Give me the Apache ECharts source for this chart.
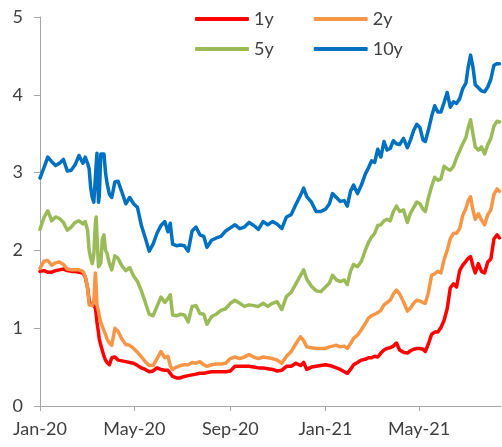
<!DOCTYPE html>
<html>
<head>
<meta charset="utf-8">
<script src="https://cdn.jsdelivr.net/npm/echarts@6/dist/echarts.min.js"></script>
<style>
html,body{margin:0;padding:0;background:#fff;}
#chart{width:502px;height:447px;}
</style>
</head>
<body>
<div id="chart"></div>
<script>
const dates = [
'2020-01-01','2020-01-06','2020-01-11','2020-01-16','2020-01-21','2020-01-26','2020-01-31','2020-02-05','2020-02-10','2020-02-15',
'2020-02-20','2020-02-25','2020-02-28','2020-03-02','2020-03-04','2020-03-06','2020-03-08','2020-03-10','2020-03-12','2020-03-13',
'2020-03-14','2020-03-16','2020-03-17','2020-03-19','2020-03-21','2020-03-23','2020-03-25','2020-03-27','2020-03-30','2020-04-02',
'2020-04-06','2020-04-10','2020-04-15','2020-04-20','2020-04-25','2020-04-30','2020-05-05','2020-05-10','2020-05-15','2020-05-20',
'2020-05-25','2020-05-30','2020-06-04','2020-06-09','2020-06-13','2020-06-16','2020-06-19','2020-06-24','2020-06-29','2020-07-04',
'2020-07-09','2020-07-14','2020-07-19','2020-07-24','2020-07-29','2020-08-02','2020-08-08','2020-08-14','2020-08-20','2020-08-26',
'2020-09-01','2020-09-07','2020-09-13','2020-09-19','2020-09-25','2020-10-01','2020-10-07','2020-10-13','2020-10-19','2020-10-25',
'2020-10-31','2020-11-06','2020-11-12','2020-11-18','2020-11-24','2020-11-30','2020-12-04','2020-12-08','2020-12-14','2020-12-20',
'2020-12-26','2021-01-01','2021-01-06','2021-01-10','2021-01-15','2021-01-20','2021-01-25','2021-01-29','2021-02-02','2021-02-06',
'2021-02-11','2021-02-16','2021-02-21','2021-02-25','2021-03-01','2021-03-05','2021-03-09','2021-03-13','2021-03-17','2021-03-21',
'2021-03-25','2021-03-29','2021-04-02','2021-04-06','2021-04-11','2021-04-16','2021-04-20','2021-04-24','2021-04-28','2021-05-02',
'2021-05-06','2021-05-09','2021-05-13','2021-05-17','2021-05-21','2021-05-25','2021-05-29','2021-06-02','2021-06-06','2021-06-10',
'2021-06-14','2021-06-18','2021-06-22','2021-06-26','2021-06-30','2021-07-03','2021-07-06','2021-07-09','2021-07-12','2021-07-16',
'2021-07-20','2021-07-24','2021-07-28','2021-08-01','2021-08-05','2021-08-09','2021-08-12'
];

const y1 = [
1.73,1.74,1.72,1.72,1.74,1.75,1.76,1.74,1.73,1.73,
1.72,1.71,1.66,1.52,1.36,1.30,1.29,1.29,1.26,1.18,
1.08,0.94,0.86,0.78,0.71,0.64,0.59,0.56,0.53,0.62,
0.63,0.59,0.58,0.57,0.56,0.55,0.52,0.49,0.47,0.44,
0.45,0.49,0.47,0.46,0.46,0.42,0.38,0.36,0.36,0.38,
0.39,0.40,0.41,0.42,0.42,0.43,0.44,0.44,0.44,0.44,
0.45,0.51,0.51,0.51,0.51,0.50,0.49,0.49,0.48,0.47,
0.45,0.46,0.51,0.51,0.55,0.52,0.56,0.47,0.50,0.51,
0.52,0.53,0.52,0.51,0.49,0.47,0.44,0.42,0.47,0.53,
0.56,0.59,0.60,0.62,0.62,0.64,0.63,0.68,0.72,0.74,
0.75,0.77,0.81,0.72,0.69,0.68,0.71,0.73,0.74,0.74,
0.73,0.70,0.80,0.92,0.95,0.95,1.01,1.10,1.25,1.52,
1.57,1.53,1.74,1.81,1.86,1.90,1.92,1.80,1.71,1.83,
1.73,1.71,1.85,1.89,2.15,2.20,2.16
];

const y2 = [
1.77,1.86,1.87,1.81,1.84,1.85,1.82,1.76,1.75,1.75,
1.75,1.73,1.67,1.52,1.30,1.29,1.29,1.35,1.71,1.55,
1.30,1.22,1.16,1.08,1.02,0.97,0.92,0.86,0.81,0.78,
1.00,0.96,0.86,0.79,0.78,0.74,0.69,0.63,0.57,0.52,
0.52,0.61,0.70,0.62,0.64,0.52,0.47,0.50,0.52,0.53,
0.53,0.56,0.55,0.57,0.53,0.51,0.53,0.54,0.54,0.55,
0.61,0.63,0.61,0.63,0.66,0.63,0.61,0.63,0.62,0.61,
0.59,0.55,0.64,0.70,0.80,0.89,0.84,0.76,0.75,0.74,
0.74,0.74,0.76,0.77,0.78,0.76,0.77,0.74,0.80,0.87,
0.91,0.98,1.06,1.13,1.16,1.18,1.20,1.23,1.30,1.33,
1.36,1.44,1.49,1.44,1.34,1.22,1.26,1.32,1.36,1.35,
1.33,1.32,1.46,1.68,1.70,1.73,1.71,1.88,2.00,2.15,
2.22,2.22,2.28,2.45,2.54,2.64,2.69,2.52,2.40,2.47,
2.39,2.33,2.46,2.52,2.72,2.79,2.76
];

const y5 = [
2.27,2.42,2.51,2.38,2.43,2.41,2.36,2.26,2.30,2.36,
2.38,2.34,2.37,2.26,2.00,1.90,1.83,1.95,2.35,2.43,
2.20,1.79,1.78,1.84,2.15,2.20,2.00,1.96,1.83,1.75,
1.93,1.90,1.80,1.74,1.78,1.67,1.60,1.48,1.33,1.18,
1.16,1.28,1.40,1.33,1.38,1.43,1.17,1.16,1.18,1.17,
1.08,1.28,1.29,1.19,1.18,1.05,1.15,1.18,1.23,1.25,
1.32,1.36,1.32,1.28,1.30,1.29,1.28,1.32,1.28,1.32,
1.34,1.24,1.41,1.46,1.57,1.68,1.75,1.63,1.54,1.48,
1.47,1.53,1.58,1.68,1.62,1.60,1.62,1.56,1.73,1.82,
1.79,1.86,2.00,2.10,2.17,2.22,2.32,2.33,2.38,2.40,
2.38,2.50,2.57,2.50,2.52,2.36,2.48,2.55,2.62,2.60,
2.53,2.50,2.68,2.82,2.94,2.90,2.92,3.08,3.05,3.03,
3.08,3.19,3.28,3.37,3.45,3.58,3.68,3.50,3.33,3.29,
3.33,3.24,3.36,3.44,3.60,3.66,3.65
];

const y10 = [
2.93,3.06,3.20,3.14,3.09,3.12,3.17,3.02,3.03,3.10,
3.22,3.12,3.20,3.12,3.05,2.80,2.68,2.62,2.60,3.10,
3.25,2.62,2.70,3.24,3.25,3.24,3.00,2.86,2.72,2.68,
2.88,2.89,2.75,2.60,2.68,2.60,2.55,2.32,2.16,1.99,
2.08,2.22,2.32,2.37,2.24,2.35,2.08,2.06,2.07,2.06,
1.99,2.25,2.30,2.20,2.18,2.04,2.13,2.16,2.18,2.25,
2.29,2.33,2.28,2.30,2.36,2.32,2.27,2.37,2.33,2.37,
2.34,2.28,2.43,2.46,2.59,2.71,2.80,2.69,2.62,2.50,
2.50,2.53,2.60,2.73,2.68,2.63,2.64,2.57,2.76,2.84,
2.73,2.84,2.98,3.06,3.15,3.13,3.30,3.20,3.40,3.29,
3.31,3.41,3.37,3.36,3.44,3.32,3.42,3.54,3.62,3.58,
3.42,3.40,3.55,3.72,3.86,3.78,3.78,3.90,4.03,3.84,
3.91,3.89,3.95,4.08,4.15,4.36,4.51,4.36,4.13,4.09,
4.05,4.04,4.10,4.20,4.38,4.40,4.40
];

const seriesNames = ['1y', '2y', '5y', '10y'];
const seriesColors = ['#FF0000', '#F79646', '#9BBB59', '#0070C0'];
const xTickDates = ['2020-01-01', '2020-05-01', '2020-09-01', '2021-01-01', '2021-05-01'];
const xTickLabels = ['Jan-20', 'May-20', 'Sep-20', 'Jan-21', 'May-21'];
const yTicks = [0, 1, 2, 3, 4, 5];

function ts(s) { const p = s.split('-').map(Number); return Date.UTC(p[0], p[1] - 1, p[2]); }
const tickTs = xTickDates.map(ts);
const allValues = [y1, y2, y5, y10];

const chart = echarts.init(document.getElementById('chart'), null, {renderer: 'canvas'});
const font = 'Lato, "Liberation Sans", sans-serif';
const textColor = '#404040';
const axisColor = '#A6A6A6';
const legendText = {fontSize: 18, fontFamily: font, color: textColor, lineHeight: 18};

const option = {
  animation: false,
  backgroundColor: '#fff',
  grid: {left: 40, right: 1, top: 17, bottom: 41, containLabel: false},
  legend: [
    {data: ['1y', '2y'], left: 190, top: 5, itemWidth: 54, itemHeight: 4, itemGap: 40, icon: 'roundRect', textStyle: legendText},
    {data: ['5y', '10y'], left: 190, top: 35, itemWidth: 54, itemHeight: 4, itemGap: 40, icon: 'roundRect', textStyle: legendText}
  ],
  xAxis: {
    type: 'value',
    min: ts('2020-01-01'),
    max: ts('2021-08-14'),
    axisLine: {show: true, lineStyle: {color: axisColor, width: 1}},
    axisTick: {show: true, customValues: tickTs, length: 5, lineStyle: {color: axisColor}},
    axisLabel: {
      customValues: tickTs,
      margin: 14,
      fontSize: 18, fontFamily: font, color: textColor,
      formatter: function (v) {
        let best = 0, bd = Infinity;
        tickTs.forEach((t, i) => { const d = Math.abs(t - v); if (d < bd) { bd = d; best = i; } });
        return xTickLabels[best];
      }
    },
    splitLine: {show: false}
  },
  yAxis: {
    type: 'value',
    min: yTicks[0], max: yTicks[yTicks.length - 1], interval: 1,
    axisLine: {show: true, lineStyle: {color: axisColor, width: 1}},
    axisTick: {show: true, length: 6, lineStyle: {color: axisColor}},
    axisLabel: {fontSize: 18, fontFamily: font, color: textColor, margin: 17},
    splitLine: {show: false}
  },
  series: seriesNames.map((name, k) => ({
    name: name,
    type: 'line',
    showSymbol: false,
    symbol: 'none',
    smooth: false,
    color: seriesColors[k],
    lineStyle: {width: 3.5, color: seriesColors[k], cap: 'round', join: 'round'},
    data: dates.map((d, i) => [ts(d), allValues[k][i]])
  }))
};
chart.setOption(option);
</script>
</body>
</html>
